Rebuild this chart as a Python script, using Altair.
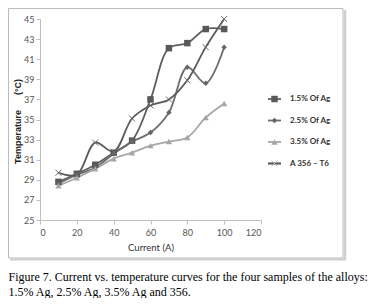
import altair as alt
import pandas as pd

current = [10, 20, 30, 40, 50, 60, 70, 80, 90, 100]
ag15 = [28.8, 29.6, 30.5, 31.7, 32.9, 37.0, 42.1, 42.6, 44.0, 44.0]
ag25 = [28.6, 29.5, 30.2, 31.6, 32.8, 33.7, 35.7, 40.2, 38.6, 42.2]
ag35 = [28.4, 29.2, 30.1, 31.1, 31.7, 32.4, 32.8, 33.2, 35.2, 36.6]
a356 = [29.7, 29.5, 32.7, 31.8, 35.1, 36.4, 37.0, 38.9, 42.2, 45.0]

names = ["1.5% Of Ag", "2.5% Of Ag", "3.5% Of Ag", "A 356 \u2013 T6"]
series = [ag15, ag25, ag35, a356]
line_colors = ["#5e5e5e", "#6e6e6e", "#a8a8a8", "#5a5a5a"]
marker_colors = ["#595959", "#666666", "#a6a6a6", "#6a6a6a"]
shapes = ["square", "diamond", "triangle-up", "M-1,-1L1,1M-1,1L1,-1"]
sizes = [42, 30, 40, 36]
filled = [True, True, True, False]

FONT = "Lato"

rows = []
for n, vals in zip(names, series):
    for c, v in zip(current, vals):
        rows.append({"series": n, "current": c, "temp": v})
df = pd.DataFrame(rows)

xs = alt.X("current:Q", scale=alt.Scale(domain=[0, 120], nice=False),
           axis=alt.Axis(values=[0, 20, 40, 60, 80, 100, 120], title="Current (A)",
                         grid=False, domainColor="#bfbfbf", tickColor="#bfbfbf",
                         tickSize=4, labelPadding=4, labelFont=FONT,
                         labelFontSize=9, labelColor="#555555",
                         titleFont=FONT, titleFontSize=9.5,
                         titleFontWeight="normal", titleColor="#333333", titlePadding=5))
ys = alt.Y("temp:Q", scale=alt.Scale(domain=[25, 45], nice=False, zero=False),
           axis=alt.Axis(values=list(range(25, 46, 2)), title=None, grid=False,
                         domainColor="#bfbfbf", tickColor="#bfbfbf", tickSize=4,
                         labelPadding=2, labelFont=FONT,
                         labelFontSize=9, labelColor="#555555"))

layers = []
for i, n in enumerate(names):
    sub = alt.Chart(df).transform_filter(alt.datum.series == n)
    layers.append(sub.mark_line(interpolate="catmull-rom", color=line_colors[i],
                                strokeWidth=1.8).encode(x=xs, y=ys))
for i, n in enumerate(names):
    sub = alt.Chart(df).transform_filter(alt.datum.series == n)
    if filled[i]:
        pm = sub.mark_point(shape=shapes[i], filled=True, color=marker_colors[i],
                            size=sizes[i], opacity=1)
    else:
        pm = sub.mark_point(shape=shapes[i], filled=False, color=marker_colors[i],
                            size=sizes[i], strokeWidth=1, opacity=1)
    layers.append(pm.encode(x=xs, y=ys))

main = alt.layer(*layers)

# legend
leg_df = pd.DataFrame({"series": names, "row": [0, 1, 2, 3]})
ly = alt.Y("row:Q", scale=alt.Scale(domain=[0, 3], range=[80, 144.5]), axis=None)
leg_layers = []
for i, n in enumerate(names):
    sub = alt.Chart(leg_df).transform_filter(alt.datum.series == n)
    leg_layers.append(sub.mark_rule(color=line_colors[i], strokeWidth=2.2 if i == 3 else 1.8)
                      .encode(x=alt.value(228), x2=alt.value(241), y=ly))
    if filled[i]:
        pm = sub.mark_point(shape=shapes[i], filled=True, color=marker_colors[i],
                            size=sizes[i], opacity=1)
    else:
        pm = sub.mark_point(shape=shapes[i], filled=False, color="#bdbdbd",
                            size=sizes[i], strokeWidth=1, opacity=1)
    leg_layers.append(pm.encode(x=alt.value(234.5), y=ly))
leg_layers.append(alt.Chart(leg_df).mark_text(align="left", baseline="middle",
                                              font=FONT, fontSize=8,
                                              fontWeight="bold", color="#333333")
                  .encode(x=alt.value(250), y=ly, text="series:N"))
legend = alt.layer(*leg_layers)

one = pd.DataFrame({"a": [0]})
frame = alt.Chart(one).mark_rect(fill=None, stroke="#bcbcbc", strokeWidth=1).encode(
    x=alt.value(-31.5), x2=alt.value(303), y=alt.value(-10.5), y2=alt.value(239))
shadow_r = alt.Chart(one).mark_rule(color="#cfcfcf", strokeWidth=2.5).encode(
    x=alt.value(305), y=alt.value(-9), y2=alt.value(241))
shadow_b = alt.Chart(one).mark_rule(color="#cfcfcf", strokeWidth=2).encode(
    x=alt.value(-30), x2=alt.value(306), y=alt.value(240.5))

ytitle1 = alt.Chart(one).mark_text(angle=270, font="Liberation Sans", fontSize=9,
                                   fontWeight="bold", color="#222222",
                                   baseline="middle", align="center").encode(
    x=alt.value(-22), y=alt.value(118), text=alt.value("Temperature"))
ytitle2 = alt.Chart(one).mark_text(angle=270, font="Liberation Sans", fontSize=9,
                                   fontWeight="bold", color="#222222",
                                   baseline="middle", align="center").encode(
    x=alt.value(-22), y=alt.value(68), text=alt.value("(\u00b0C)"))

cap1 = alt.Chart(one).mark_text(align="left", baseline="alphabetic",
                                font="Liberation Serif", fontSize=12, color="#000000").encode(
    x=alt.value(-31.5), y=alt.value(262),
    text=alt.value("Figure 7. Current vs. temperature curves for the four samples of the alloys:"))
cap2 = alt.Chart(one).mark_text(align="left", baseline="alphabetic",
                                font="Liberation Serif", fontSize=12, color="#000000").encode(
    x=alt.value(-31.5), y=alt.value(277),
    text=alt.value("1.5% Ag, 2.5% Ag, 3.5% Ag and 356."))

chart = alt.layer(shadow_r, shadow_b, frame, main, legend, ytitle1, ytitle2, cap1, cap2).resolve_scale(
    y="independent"
).properties(
    width=221, height=201,
    autosize=alt.AutoSizeParams(type="none"),
    padding={"left": 32, "top": 11, "right": 112, "bottom": 78},
).configure_view(stroke=None)

chart.save("out.html", embed_options={"renderer": "svg", "actions": False})
